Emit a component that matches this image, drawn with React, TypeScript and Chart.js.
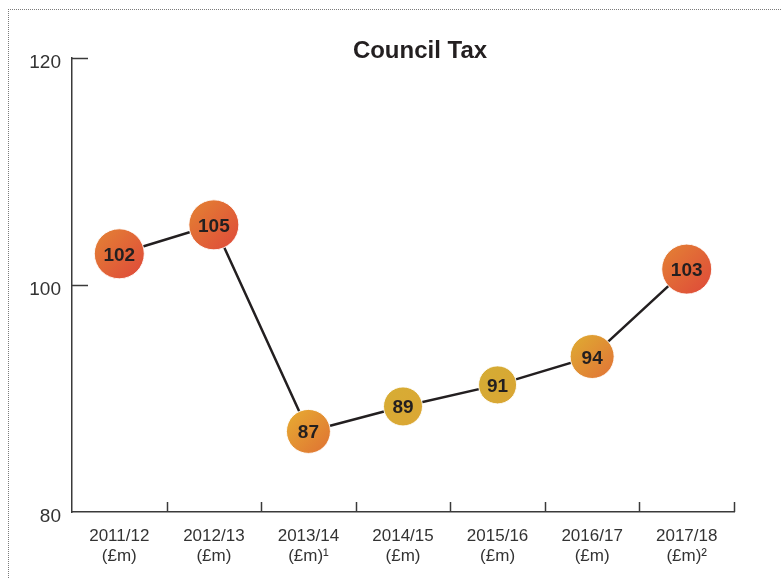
import React, { useEffect, useRef } from "react";
import { Chart, registerables } from "chart.js";

Chart.register(...registerables);

// ---- data ----
const categories: string[][] = [
  ["2011/12", "(£m)"],
  ["2012/13", "(£m)"],
  ["2013/14", "(£m)¹"],
  ["2014/15", "(£m)"],
  ["2015/16", "(£m)"],
  ["2016/17", "(£m)"],
  ["2017/18", "(£m)²"],
];
const councilTax = [102.75, 105.3, 87.1, 89.3, 91.2, 93.7, 101.4];
const valueLabels = ["102", "105", "87", "89", "91", "94", "103"];
const yTicks = [80, 100, 120];
const chartTitle = "Council Tax";

// ---- styles ----
const pointRadii = [25, 25, 22, 19.5, 19, 22, 25];
const gradStart = ["#e37c35", "#e37c33", "#e6a632", "#d7ac34", "#d5ab34", "#dfa632", "#e37c35"];
const gradEnd = ["#df4f39", "#df503a", "#e07833", "#dba734", "#d9a634", "#e17936", "#df4f39"];
const FONT = "'Liberation Sans', Arial, Helvetica, sans-serif";
const AXIS = "#3a3a3a";

const decorPlugin = {
  id: "decor",
  beforeDatasetsDraw(chart: any) {
    const ctx = chart.ctx;
    const x = chart.scales.x;
    const y = chart.scales.y;
    const area = chart.chartArea;
    ctx.save();
    ctx.strokeStyle = AXIS;
    ctx.lineWidth = 1.5;
    // inward y tick marks
    yTicks.forEach((v) => {
      if (v === y.min) return;
      const py = Math.round(y.getPixelForValue(v)) + 0.5;
      ctx.beginPath();
      ctx.moveTo(area.left, py);
      ctx.lineTo(area.left + 16, py);
      ctx.stroke();
    });
    // inward x tick marks at category boundaries
    const n = categories.length;
    const band = (x.getPixelForValue(n - 1) - x.getPixelForValue(0)) / (n - 1);
    for (let i = 0; i < n; i++) {
      const px = Math.round(x.getPixelForValue(i) + band / 2) + 0.5;
      ctx.beginPath();
      ctx.moveTo(px, area.bottom);
      ctx.lineTo(px, area.bottom - 10);
      ctx.stroke();
    }
    ctx.restore();
  },
  afterDatasetsDraw(chart: any) {
    const ctx = chart.ctx;
    const meta = chart.getDatasetMeta(0);
    ctx.save();
    ctx.fillStyle = "#231f20";
    ctx.font = `bold 19px ${FONT}`;
    ctx.textAlign = "center";
    ctx.textBaseline = "alphabetic";
    meta.data.forEach((pt: any, i: number) => {
      ctx.fillText(valueLabels[i], pt.x, pt.y + 7);
    });
    ctx.restore();
  },
  afterDraw(chart: any) {
    const ctx = chart.ctx;
    const area = chart.chartArea;
    ctx.save();
    ctx.fillStyle = "#231f20";
    ctx.font = `bold 24px ${FONT}`;
    ctx.textAlign = "center";
    ctx.textBaseline = "alphabetic";
    ctx.fillText(chartTitle, (area.left + area.right) / 2 + 17, 58);
    ctx.restore();
  },
};

function pointGradient(c: any) {
  const chart = c.chart;
  const i = c.dataIndex;
  if (i === undefined || !chart.scales || !chart.scales.x || !chart.scales.y) return gradStart[0];
  const px = chart.scales.x.getPixelForValue(i);
  const py = chart.scales.y.getPixelForValue(councilTax[i]);
  if (!isFinite(px) || !isFinite(py)) return gradStart[i] || gradStart[0];
  const r = pointRadii[i] * 0.75;
  const g = chart.ctx.createLinearGradient(px - r, py - r, px + r, py + r);
  g.addColorStop(0, gradStart[i]);
  g.addColorStop(1, gradEnd[i]);
  return g;
}

export default function App() {
  const ref = useRef<HTMLCanvasElement | null>(null);

  useEffect(() => {
    if (!ref.current) return;
    const chart = new Chart(ref.current, {
      type: "line",
      data: {
        labels: categories,
        datasets: [
          {
            data: councilTax,
            borderColor: "#231f20",
            borderWidth: 2.5,
            tension: 0,
            pointRadius: pointRadii,
            pointHoverRadius: pointRadii,
            pointBackgroundColor: pointGradient as any,
            pointBorderColor: "rgba(255,255,255,0.9)",
            pointBorderWidth: 1,
          },
        ],
      },
      plugins: [decorPlugin],
      options: {
        responsive: false,
        animation: false,
        events: [],
        layout: { padding: { left: 0, right: 47, top: 58, bottom: 0 } },
        plugins: {
          legend: { display: false },
          tooltip: { enabled: false },
          title: { display: false },
        },
        scales: {
          x: {
            type: "category",
            offset: true,
            grid: { display: false, drawTicks: false },
            border: { display: true, color: AXIS, width: 1.5 },
            afterFit: (s: any) => {
              s.height = 66;
            },
            ticks: {
              autoSkip: false,
              maxRotation: 0,
              padding: 14,
              color: "#333333",
              font: { family: FONT, size: 17, lineHeight: 1.2 },
            },
          },
          y: {
            min: 80,
            max: 120,
            grid: { display: false, drawTicks: false },
            border: { display: true, color: AXIS, width: 1.5 },
            afterFit: (s: any) => {
              s.width = 72;
            },
            afterBuildTicks: (s: any) => {
              s.ticks = yTicks.map((v) => ({ value: v }));
            },
            ticks: {
              padding: 11,
              labelOffset: 5,
              color: "#333333",
              font: { family: FONT, size: 19 },
            },
          },
        },
      },
    });
    return () => chart.destroy();
  }, []);

  return (
    <div
      style={{
        position: "fixed",
        left: 0,
        top: 0,
        width: 781,
        height: 578,
        background: "#ffffff",
        overflow: "hidden",
      }}
    >
      <div
        style={{
          position: "absolute",
          left: 8,
          top: 9,
          right: -2,
          bottom: -2,
          borderTop: "1px dotted #7a7a7a",
          borderLeft: "1px dotted #7a7a7a",
        }}
      />
      <canvas
        ref={ref}
        width={781}
        height={578}
        style={{ position: "absolute", left: 0, top: 0, width: 781, height: 578 }}
      />
    </div>
  );
}
